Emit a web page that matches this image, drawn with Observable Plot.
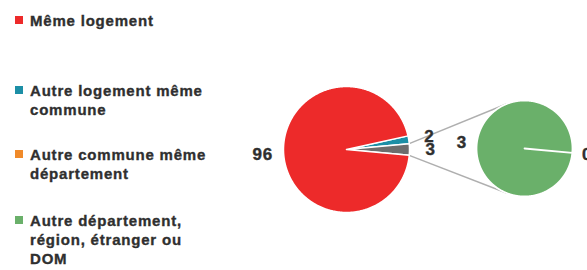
<!DOCTYPE html>
<html>
<head>
<meta charset="utf-8">
<script src="https://cdn.jsdelivr.net/npm/d3@7"></script>
<script src="https://cdn.jsdelivr.net/npm/@observablehq/plot@0.6"></script>
<style>
  body { margin: 0; background: #fff; }
  #wrap { position: relative; width: 587px; height: 270px; overflow: hidden;
          font-family: "Liberation Sans", Arial, sans-serif; color: #2f2f2f; }
  #chart { position: absolute; left: 0; top: 0; }
  .item { position: absolute; left: 30px; font-size: 15px; font-weight: bold;
          line-height: 19px; letter-spacing: 0.8px; white-space: nowrap;
          -webkit-text-stroke: 0.35px #2f2f2f; }
  .sw { position: absolute; left: -15px; top: 5px; width: 8px; height: 8px; }
</style>
</head>
<body>
<div id="wrap"><div id="chart"></div><div id="legend"></div></div>
<script>
// ---- data ----
const categories = [
  "Même logement",
  "Autre logement même commune",
  "Autre commune même département",
  "Autre département, région, étranger ou DOM"
];
const values = [96, 2, 0, 3];
const colors = ["#ED2A2A", "#1C8FA6", "#F08A2A", "#6AB06A"];
const otherColor = "#6D6D6D";
const legendLines = [
  ["Même logement"],
  ["Autre logement même", "commune"],
  ["Autre commune même", "département"],
  ["Autre département,", "région, étranger ou", "DOM"]
];

// ---- layout ----
const W = 587, H = 270;
const mainPie = {cx: 346, cy: 149, r: 63, labelR: 84};
const secPie = {cx: 524, cy: 148, r: 48, labelR: 63};
const legendTops = [11, 81, 145, 211];

// main pie: teal, other (orange+green), red ; other centred at 3 o'clock
const otherValue = values[2] + values[3];
const mainData = [
  {key: categories[1], v: values[1], color: colors[1]},
  {key: "Autres", v: otherValue, color: otherColor},
  {key: categories[0], v: values[0], color: colors[0]}
];
const mainTotal = d3.sum(mainData, d => d.v);
const tealA = values[1] / mainTotal * 2 * Math.PI;
const otherA = otherValue / mainTotal * 2 * Math.PI;
const mainStart = Math.PI / 2 - otherA / 2 - tealA;
const mainArcs = d3.pie().sort(null).value(d => d.v)
  .startAngle(mainStart).endAngle(mainStart + 2 * Math.PI)(mainData);

// secondary pie: orange (0) then green
const secData = [
  {key: categories[2], v: values[2], color: colors[2]},
  {key: categories[3], v: values[3], color: colors[3]}
];
const secStart = Math.PI / 2 + 0.09;
const secArcs = d3.pie().sort(null).value(d => d.v)
  .startAngle(secStart).endAngle(secStart + 2 * Math.PI)(secData);

function pt(p, r, a) { return [p.cx + r * Math.sin(a), p.cy - r * Math.cos(a)]; }

function wedges(arcs, p, prefix) {
  const out = [];
  arcs.forEach((a, i) => {
    const id = prefix + i;
    out.push({x: p.cx, y: p.cy, id, color: a.data.color});
    const n = Math.max(2, Math.ceil((a.endAngle - a.startAngle) / 0.01));
    for (let k = 0; k <= n; k++) {
      const ang = a.startAngle + (a.endAngle - a.startAngle) * k / n;
      const [x, y] = pt(p, p.r, ang);
      out.push({x, y, id, color: a.data.color});
    }
  });
  return out;
}
function labels(arcs, p) {
  return arcs.map(a => {
    const m = (a.startAngle + a.endAngle) / 2;
    const [x, y] = pt(p, p.labelR, m);
    return {x, y, text: String(a.data.v)};
  });
}

const mainPts = wedges(mainArcs, mainPie, "m");
const secPts = wedges(secArcs, secPie, "s");

// connectors from "other" slice edges to tangents of secondary pie
const oArc = mainArcs[1];
function tangent(P, C, r, upper) {
  const dx = P[0] - C.cx, dy = P[1] - C.cy;
  const d = Math.hypot(dx, dy), th = Math.atan2(dy, dx), al = Math.acos(r / d);
  const t1 = [C.cx + r * Math.cos(th + al), C.cy + r * Math.sin(th + al)];
  const t2 = [C.cx + r * Math.cos(th - al), C.cy + r * Math.sin(th - al)];
  return upper ? (t1[1] < t2[1] ? t1 : t2) : (t1[1] > t2[1] ? t1 : t2);
}
const pTop = pt(mainPie, mainPie.r, oArc.startAngle);
const pBot = pt(mainPie, mainPie.r, oArc.endAngle);
const tTop = tangent(pTop, secPie, secPie.r, true);
const tBot = tangent(pBot, secPie, secPie.r, false);
const connectors = [
  {x1: pTop[0], y1: pTop[1], x2: tTop[0], y2: tTop[1]},
  {x1: pBot[0], y1: pBot[1], x2: tBot[0], y2: tBot[1]}
];

const textOpts = {fontSize: 17, fontWeight: "bold", fill: "#2f2f2f",
  stroke: "#2f2f2f", strokeWidth: 0.4,
  fontFamily: "Liberation Sans, Arial, sans-serif", textAnchor: "middle", lineAnchor: "middle"};

const chart = Plot.plot({
  width: W, height: H, margin: 0,
  x: {domain: [0, W], range: [0, W], axis: null},
  y: {domain: [0, H], range: [0, H], axis: null},
  style: {background: "transparent", overflow: "hidden"},
  marks: [
    Plot.link(connectors, {x1: "x1", y1: "y1", x2: "x2", y2: "y2", stroke: "#AFAFAF", strokeWidth: 1.5}),
    Plot.line(mainPts, {x: "x", y: "y", z: "id", fill: d => d.color, stroke: "white",
      strokeWidth: 1.5, curve: "linear-closed", strokeLinejoin: "round"}),
    Plot.line(secPts, {x: "x", y: "y", z: "id", fill: d => d.color, stroke: "white",
      strokeWidth: 1.8, curve: "linear-closed", strokeLinejoin: "round"}),
    Plot.text(labels(mainArcs, mainPie), {x: "x", y: "y", text: "text", ...textOpts}),
    Plot.text(labels(secArcs, secPie), {x: "x", y: "y", text: "text", ...textOpts})
  ]
});
chart.querySelectorAll("text").forEach(t => t.setAttribute("letter-spacing", "0.8"));
document.getElementById("chart").appendChild(chart);

// legend
const leg = document.getElementById("legend");
legendLines.forEach((lines, i) => {
  const div = document.createElement("div");
  div.className = "item";
  div.style.top = legendTops[i] + "px";
  const sw = document.createElement("span");
  sw.className = "sw";
  sw.style.background = colors[i];
  div.appendChild(sw);
  lines.forEach((l, j) => {
    if (j) div.appendChild(document.createElement("br"));
    div.appendChild(document.createTextNode(l));
  });
  leg.appendChild(div);
});
</script>
</body>
</html>
